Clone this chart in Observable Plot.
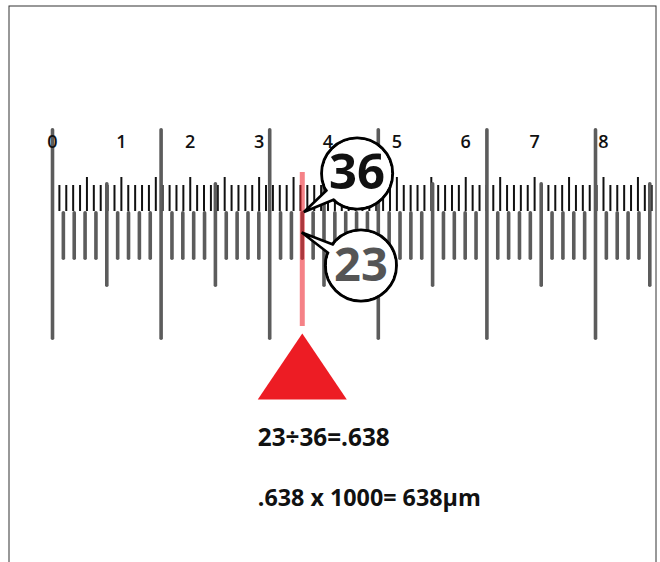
<!DOCTYPE html>
<html>
<head>
<meta charset="utf-8">
<script src="https://cdn.jsdelivr.net/npm/d3@7"></script>
<script src="https://cdn.jsdelivr.net/npm/@observablehq/plot@0.6"></script>
<style>
  body { margin: 0; background: #fff; }
  #chart svg { display: block; }
</style>
</head>
<body>
<div id="chart"></div>
<script>
// ---------- data ----------
// stage micrometer divisions (gray, thick) and ocular micrometer divisions (black, thin)
const stageDivisions = d3.range(0, 56);     // 0 … 55
const ocularDivisions = d3.range(0, 88);    // 0 … 87
const ocularLabels = [0, 1, 2, 3, 4, 5, 6, 7, 8];
const ocularPerStage = 0.6342;              // width of one ocular division in stage divisions (as drawn)
const stageMatch = 23;                      // stage divisions at the alignment line
const ocularMatch = 36;                     // ocular divisions at the alignment line
const resultLines = ["23÷36=.638", ".638 x 1000= 638µm"];

// ---------- layout (pixels, vertical) ----------
const L = {
  label: 142,
  join: 211,
  ocTop: {tall: 160, mid: 177, short: 185},
  stTop: {long: 128, mid: 182, short: 211},
  stBottom: {long: 340, mid: 287, short: 260},
  redTop: 172, redBottom: 326,
  triTop: 333, triBase: 399, triHalf: 4.1,
  line1: 445, line2: 505
};
const pxPerStage = (595 - 52) / 50;

// callout bubbles (center in stage units / px, tail tip at the alignment line)
const callouts = [
  {label: String(ocularMatch), x: 28.05, y: 173, r: 35.5, tipX: 23.15, tipY: 211.5, a1: 152, a2: 130, color: "#111", size: 49},
  {label: String(stageMatch), x: 28.4, y: 265, r: 35.5, tipX: 22.95, tipY: 232, a1: 218, a2: 200, color: "#555", size: 47}
];

// ---------- derived tables ----------
const stageTicks = stageDivisions.map(d => {
  const kind = d % 10 === 0 ? "long" : d % 5 === 0 ? "mid" : "short";
  return {x: d, kind, y1: L.stTop[kind] + 1.8, y2: L.stBottom[kind] - 1.8};
});
const ocularTicks = ocularDivisions.map(d => {
  const kind = d === 0 ? "tall" : d % 5 === 0 ? "mid" : "short";
  return {x: d * ocularPerStage, kind, y1: L.ocTop[kind], y2: L.join};
});
const labelData = ocularLabels.map(v => ({x: v * 10 * ocularPerStage, text: String(v)}));

const tails = callouts.flatMap(c => {
  const rr = c.r - 2.5;
  const p = a => ({
    label: c.label,
    x: c.x + rr * Math.cos(a * Math.PI / 180) / pxPerStage,
    y: c.y + rr * Math.sin(a * Math.PI / 180)
  });
  return [p(c.a1), {label: c.label, x: c.tipX, y: c.tipY}, p(c.a2)];
});

const triangle = [
  {x: stageMatch - L.triHalf, y: L.triBase},
  {x: stageMatch, y: L.triTop},
  {x: stageMatch + L.triHalf, y: L.triBase}
];

const font = "'Open Sans', 'DejaVu Sans', sans-serif";

const chart = Plot.plot({
  width: 660,
  height: 562,
  marginTop: 5.5,
  marginLeft: 8.5,
  marginRight: 4.5,
  marginBottom: -3,
  x: {domain: [0, 50], range: [52, 595], axis: null},
  y: {domain: [0, 562], range: [0, 562], axis: null},
  style: {background: "white", fontFamily: font, overflow: "visible"},
  marks: [
    Plot.frame({stroke: "#333", strokeWidth: 1}),
    // ocular scale (black)
    Plot.ruleX(ocularTicks, {x: "x", y1: "y1", y2: "y2", stroke: "#111", strokeWidth: 2}),
    // stage scale (gray)
    Plot.ruleX(stageTicks, {x: "x", y1: "y1", y2: "y2", stroke: "#5c5c5c", strokeWidth: 3.6, strokeLinecap: "round"}),
    // alignment line
    Plot.ruleX([stageMatch], {y1: L.redTop, y2: L.redBottom, stroke: "#ed1c24", strokeOpacity: 0.55, strokeWidth: 5}),
    // pointer triangle
    Plot.line(triangle, {x: "x", y: "y", fill: "#ed1c24", stroke: "none"}),
    // callout bubbles
    Plot.dot(callouts, {x: "x", y: "y", r: 35.5, fill: "white", stroke: "#000", strokeWidth: 3}),
    Plot.line(tails, {x: "x", y: "y", z: "label", fill: "white", stroke: "#000", strokeWidth: 2.6, strokeLinejoin: "miter"}),
    Plot.dot(callouts, {x: "x", y: "y", r: 34, fill: "white", stroke: "none"}),
    Plot.text([callouts[0]], {x: "x", y: "y", text: "label", fontSize: callouts[0].size, fontWeight: 700, fill: callouts[0].color, fontFamily: font}),
    Plot.text([callouts[1]], {x: "x", y: "y", text: "label", fontSize: callouts[1].size, fontWeight: 700, fill: callouts[1].color, fontFamily: font}),
    // ocular numbers
    Plot.text(labelData, {x: "x", y: L.label, text: "text", fontSize: 18, fontWeight: 600, fill: "#111", fontFamily: font}),
    // result text
    Plot.text([resultLines[0]], {x: stageMatch - L.triHalf, y: L.line1, text: d => d, textAnchor: "start", lineAnchor: "bottom", fontSize: 24.3, fontWeight: 700, fill: "#111", fontFamily: font}),
    Plot.text([resultLines[1]], {x: stageMatch - L.triHalf, y: L.line2, text: d => d, textAnchor: "start", lineAnchor: "bottom", fontSize: 23.3, fontWeight: 700, fill: "#111", fontFamily: font})
  ]
});
document.getElementById("chart").appendChild(chart);
</script>
</body>
</html>
